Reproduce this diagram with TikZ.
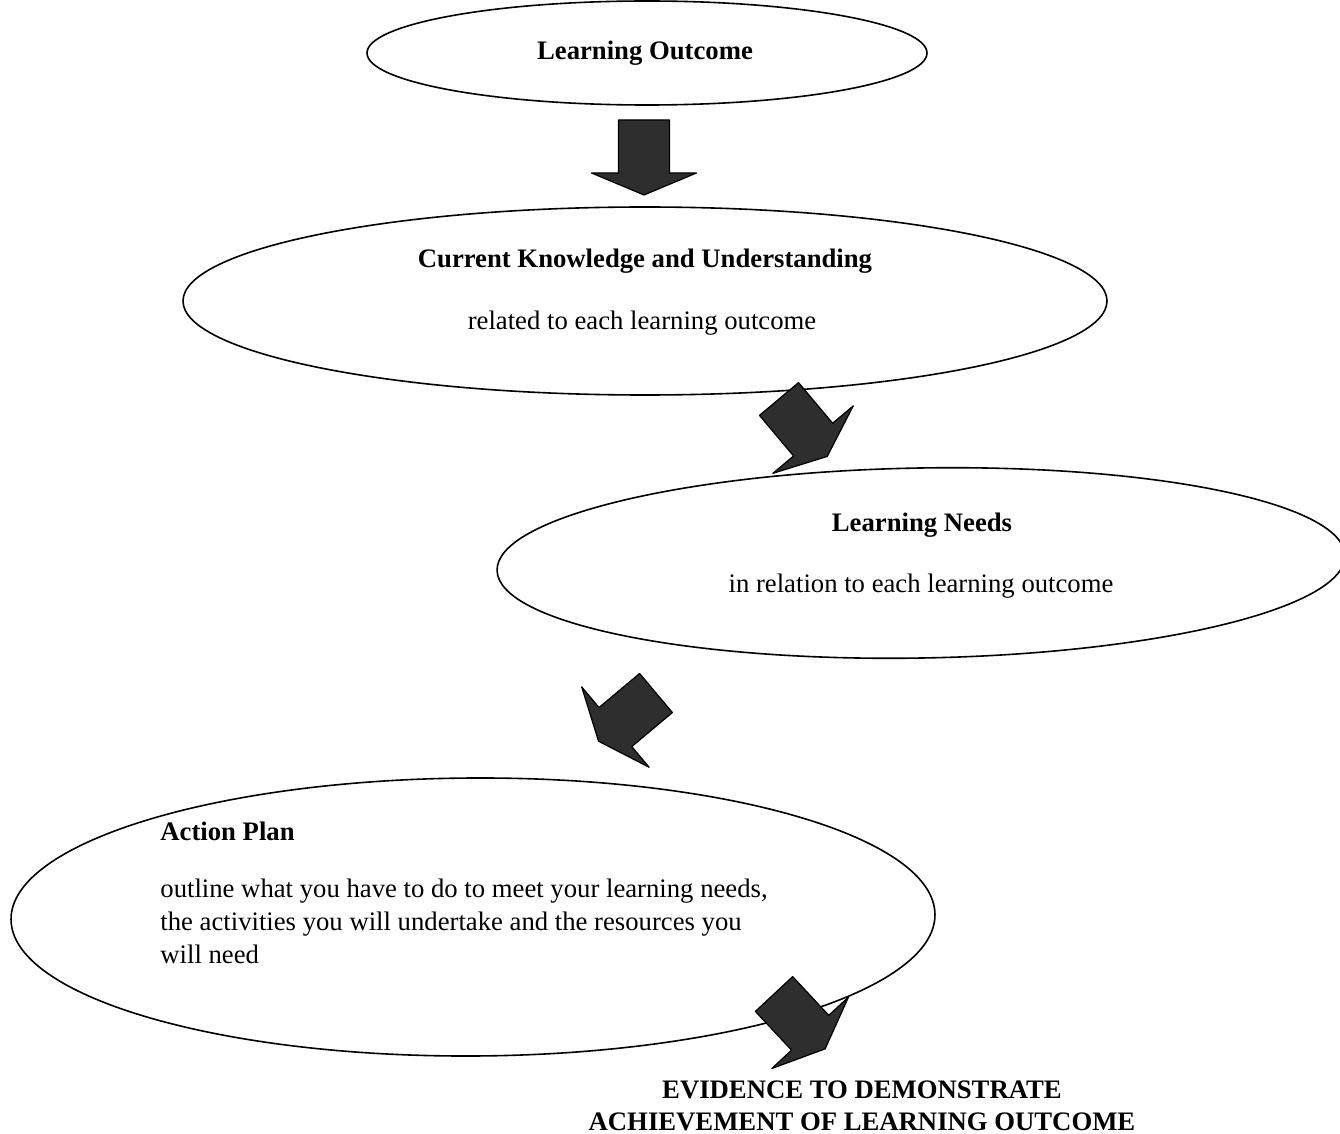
\documentclass[tikz,border=0pt]{standalone}
\usepackage{fontspec}
\setmainfont{Liberation Serif}
\usetikzlibrary{shapes.geometric}
\tikzset{
  bubble/.style={draw, ellipse, line width=0.8pt, inner sep=0pt},
  head/.style={font=\bfseries},
  body/.style={font=\normalfont}
}
\begin{document}
\begin{tikzpicture}[line cap=round, line join=round, x=0.5pt, y=-0.5pt]
  \fontsize{13.35}{16.5}\selectfont
  \useasboundingbox (0,0) rectangle (1340,1134);
  \path
  (647,53) coordinate (O)
  (645,301) coordinate (K)
  (921,563) coordinate (N)
  (473,917) coordinate (P);
  % ellipses
  \node[bubble, minimum width=280pt, minimum height=52pt] (outcome) at (O) {};
  \node[bubble, minimum width=462pt, minimum height=94pt] (knowledge) at (K) {};
  \node[bubble, minimum width=424pt, minimum height=95pt, rotate=1] (needs) at (N) {};
  \node[bubble, minimum width=462pt, minimum height=139pt, rotate=0.3] (plan) at (P) {};
  % texts
  \node[head] (outcometxt) at (645,53) {Learning Outcome};
  \node[head] (knowtitle) at (645,261) {Current Knowledge and Understanding};
  \node[body] (knowtxt) at (642,323) {related to each learning outcome};
  \node[head] (needtitle) at (922,525) {Learning Needs};
  \node[body] (needtxt) at (921,586) {in relation to each learning outcome};
  \node[head, anchor=west, inner sep=0pt] (plantitle) at (160,831) {Action Plan};
  \node[body, anchor=west, inner sep=0pt, align=left] (plantxt) at (160,921)
    {outline what you have to do to meet your learning needs,\\
     the activities you will undertake and the resources you\\
     will need};
  \node[head, align=center, font=\bfseries\fontsize{13.35}{16}\selectfont] (evidence) at (862,1106)
    {EVIDENCE TO DEMONSTRATE\\ ACHIEVEMENT OF LEARNING OUTCOME};
  % block arrows
  \foreach \px/\py/\ang in {644/120/90, 779/399/50, 656/693/140, 774/994/47} {
    \begin{scope}[shift={(\px,\py)}, rotate=-\ang]
      \filldraw[fill=black!82, draw=black, line width=0.6pt]
      (0,-25.5) -- (53,-25.5) -- (53,-52.5) -- (75,0) -- (53,52.5) -- (53,25.5) -- (0,25.5) -- cycle;
    \end{scope}
  }
\end{tikzpicture}
\end{document}
